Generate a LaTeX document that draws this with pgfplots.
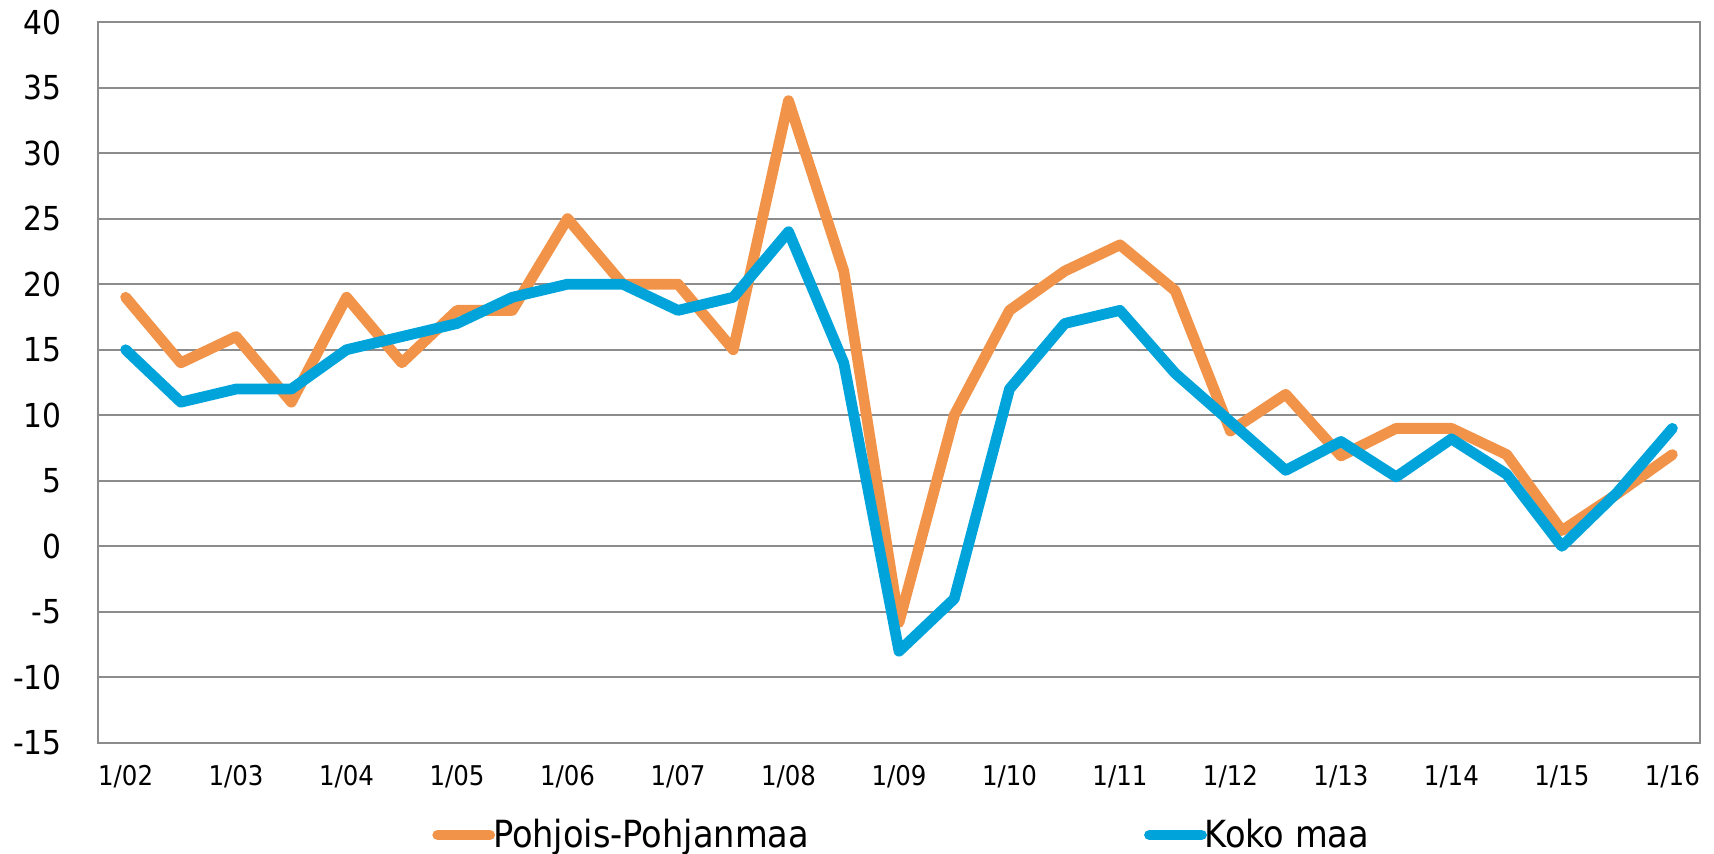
\documentclass[border=0pt]{standalone}
\usepackage{fontspec}
\setmainfont{DejaVu Sans Condensed}
\usepackage{pgfplots}
\pgfplotsset{compat=1.18}
\definecolor{pporange}{HTML}{F2934A}
\definecolor{kmblue}{HTML}{00A4DB}
\definecolor{gridgray}{HTML}{8C8C8C}

\pgfplotstableread{
x  pp     koko
0  19     15
1  14     11
2  16     12
3  11     12
4  19     15
5  14     16
6  18     17
7  18     19
8  25     20
9  20     20
10 20     18
11 15     19
12 34     24
13 21     14
14 -5.8   -8
15 10     -4
16 18     12
17 21     17
18 23     18
19 19.5   13.2
20 8.8    9.5
21 11.6   5.8
22 6.9    8
23 9      5.3
24 9      8.2
25 7      5.5
26 1.2    0
27 4      4.1
28 7      9
}\datatable

\begin{document}
\begin{tikzpicture}
\useasboundingbox (-49pt,-55.5pt) rectangle (808pt,371.5pt);
\begin{axis}[
    scale only axis,
    width=801pt, height=360.5pt,
    at={(0,0)}, anchor=south west,
    xmin=-0.5, xmax=28.5,
    ymin=-15, ymax=40,
    xtick={0,2,...,28},
    xticklabels={1/02,1/03,1/04,1/05,1/06,1/07,1/08,1/09,1/10,1/11,1/12,1/13,1/14,1/15,1/16},
    ytick={-15,-10,...,40},
    major tick length=0pt,
    ymajorgrids,
    grid style={gridgray, line width=1pt},
    axis line style={gridgray, line width=1pt},
    tick label style={inner sep=0pt},
    yticklabel style={font=\fontsize{16.5}{17}\selectfont, xshift=-18pt},
    xticklabel style={font=\fontsize{13.6}{14}\selectfont, yshift=-11pt},
    /pgf/number format/assume math mode=true,
    legend columns=2,
    legend cell align=left,
    legend image code/.code={\draw[#1, line cap=round] (0pt,0pt) -- (26pt,0pt);},
    legend style={at={(axis description cs:0.2087,-0.1276)}, anchor=west,
      draw=none, fill=none, inner sep=0pt, outer sep=0pt, column sep=0pt,
      font=\fontsize{18.7}{19}\selectfont, nodes={inner sep=0pt}},
]
\addplot[pporange, line width=5.4pt, line join=round, line cap=round]
    table[x=x, y=pp] {\datatable};
\addlegendentry{\makebox[324.5pt][l]{\hspace{-1pt}Pohjois-Pohjanmaa}}
\addplot[kmblue, line width=5.4pt, line join=round, line cap=round]
    table[x=x, y=koko] {\datatable};
\addlegendentry{\hspace{-1pt}Koko maa}
\end{axis}
\end{tikzpicture}
\end{document}
